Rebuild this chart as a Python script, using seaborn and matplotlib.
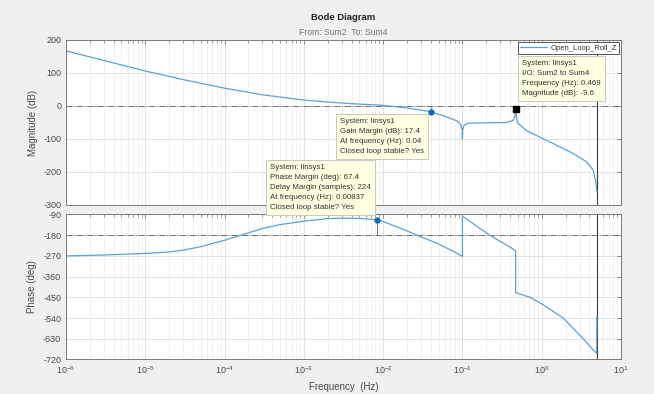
import numpy as np
import pandas as pd
import matplotlib
matplotlib.use("Agg")
import matplotlib.pyplot as plt
import seaborn as sns
from matplotlib.ticker import FixedLocator, NullFormatter

# magnitude response (Hz, dB)
mag_freq = [1e-6, 3e-6, 1e-5, 3e-5, 1e-4, 3e-4, 1e-3, 2e-3, 4e-3, 1e-2, 0.02, 0.04,
            0.063, 0.085, 0.095, 0.099, 0.1, 0.101, 0.105, 0.12, 0.2, 0.36, 0.44,
            0.46, 0.469, 0.48, 0.5, 0.645, 1.4, 2.5, 3.68, 4.46, 4.8, 4.97]
mag_db = [167, 138, 106, 80, 54, 34, 18, 12, 7, 2, -6, -17.4,
          -33, -45, -55, -72, -100, -72, -58, -52, -51, -50, -43,
          -30, -9.6, -35, -52, -75, -114, -144, -169, -194, -228, -258]

# phase response (Hz, deg)
ph_freq = [1e-6, 3e-6, 1e-5, 2e-5, 3e-5, 5e-5, 1e-4, 2e-4, 3e-4, 5e-4, 1e-3, 2e-3,
           3e-3, 5e-3, 8.37e-3, 0.011, 0.018, 0.029, 0.047, 0.077, 0.1, 0.1,
           0.15, 0.222, 0.3, 0.4, 0.469, 0.469, 0.71, 1.0, 1.87, 2.5, 3.34, 4.0,
           4.69, 4.93, 4.97]
ph_deg = [-270, -266, -259, -253, -245, -230, -202, -170, -151, -134, -119, -108,
          -106, -107, -112.6, -126, -155, -185, -214, -250, -272, -97,
          -140, -180, -207, -232, -248, -429, -450, -478, -540, -585, -630, -660,
          -687, -693, -535]

decades = [1e-6, 1e-5, 1e-4, 1e-3, 1e-2, 1e-1, 1e0, 1e1]
nyquist = 5.0
gm_freq, gm_db = 0.04, -17.4
pm_freq, pm_deg = 0.00837, -112.6
pk_freq, pk_db = 0.469, -9.6

mag = pd.DataFrame({"freq": mag_freq, "db": mag_db})
ph = pd.DataFrame({"freq": ph_freq, "deg": ph_deg})

sns.set_style("white")
plt.rcParams["font.family"] = ["Liberation Sans", "DejaVu Sans"]
plt.rcParams["axes.unicode_minus"] = False

BG = "#f0f0f0"
LINE = "#5aa2d4"
AXC = "#7a7a7a"
TXT = "#4a4a4a"

fig = plt.figure(figsize=(6.54, 3.94), dpi=100, facecolor=BG)
ax1 = fig.add_axes([0.1009, 0.4797, 0.8486, 0.4188])
ax2 = fig.add_axes([0.1009, 0.0876, 0.8486, 0.3680])

sns.lineplot(data=mag, x="freq", y="db", ax=ax1, color=LINE, lw=0.9,
             sort=False, estimator=None, label="Open_Loop_Roll_Z")
sns.lineplot(data=ph, x="freq", y="deg", ax=ax2, color=LINE, lw=0.9,
             sort=False, estimator=None)

minor = [m * d for d in decades[:-1] for m in range(2, 10)]
for ax in (ax1, ax2):
    ax.set_xscale("log")
    ax.set_xlim(1e-6, 1e1)
    ax.set_facecolor("white")
    ax.set_xticks(decades)
    ax.xaxis.set_minor_locator(FixedLocator(minor))
    ax.xaxis.set_minor_formatter(NullFormatter())
    ax.grid(True, which="major", color="#dcdcdc", lw=0.6)
    ax.grid(True, which="minor", axis="x", color="#ececec", lw=0.5)
    ax.tick_params(which="both", direction="in", top=True, right=True,
                   colors=AXC, labelcolor=TXT, labelsize=6.5)
    ax.tick_params(which="major", length=3, width=0.6)
    ax.tick_params(which="minor", length=1.8, width=0.5)
    for s in ax.spines.values():
        s.set_color(AXC)
        s.set_linewidth(0.7)
    ax.set_axisbelow(True)
    ax.axvline(nyquist, color="#3a3a3a", lw=0.8, zorder=1)

ax1.set_ylim(-300, 200)
ax1.set_yticks(range(-300, 201, 100))
ax1.axhline(0, color="#707070", lw=0.7, ls="-.", zorder=1)
ax1.tick_params(labelbottom=False)
ax1.set_xlabel("")
ax1.set_ylabel("Magnitude (dB)", fontsize=7, color=TXT, labelpad=4)

ax2.set_ylim(-720, -90)
ax2.set_yticks(range(-720, -89, 90))
ax2.axhline(-180, color="#707070", lw=0.7, ls="-.", zorder=1)
ax2.set_xlabel("Frequency  (Hz)", fontsize=7, color=TXT, labelpad=4)
ax2.set_ylabel("Phase (deg)", fontsize=7, color=TXT, labelpad=4)

# margin markers
ax1.plot([gm_freq, gm_freq], [0, gm_db], color=LINE, lw=0.8)
ax1.plot(gm_freq, gm_db, "o", color="#0a6ab8", ms=3.5, zorder=5)
ax1.plot(pk_freq, pk_db, "s", color="black", ms=4, zorder=5)
ax2.plot([pm_freq, pm_freq], [-180, pm_deg], color="#777777", lw=0.7)
ax2.plot(pm_freq, pm_deg, "o", color="#0a6ab8", ms=3.5, zorder=5)

leg = ax1.legend(loc="upper right", fontsize=5.5, frameon=True, fancybox=False,
                 edgecolor="#555555", framealpha=1, handlelength=3.6,
                 borderaxespad=0.25, borderpad=0.3, handletextpad=0.4)
leg.get_frame().set_linewidth(0.7)
for t in leg.get_texts():
    t.set_color("#333333")

fig.text(0.525, 0.955, "Bode Diagram", ha="center", va="center",
         fontsize=6.8, fontweight="bold", color="#222222")
fig.text(0.525, 0.918, "From: Sum2  To: Sum4", ha="center", va="center",
         fontsize=6.2, color="#777777")

tip = dict(boxstyle="square,pad=0.5", fc="#ffffe1", ec="#c8c8c0", lw=0.7)
tip_kw = dict(ha="left", va="top", fontsize=5.7, color="#333333",
              linespacing=1.6, bbox=tip, zorder=10)
fig.text(522 / 654, 1 - 60 / 394,
         "System: linsys1\nI/O: Sum2 to Sum4\nFrequency (Hz): 0.469\nMagnitude (dB): -9.6",
         **tip_kw)
fig.text(340 / 654, 1 - 118 / 394,
         "System: linsys1\nGain Margin (dB): 17.4\nAt frequency (Hz): 0.04\nClosed loop stable? Yes",
         **tip_kw)
fig.text(270 / 654, 1 - 164 / 394,
         "System: linsys1\nPhase Margin (deg): 67.4\nDelay Margin (samples): 224\n"
         "At frequency (Hz): 0.00837\nClosed loop stable? Yes",
         **tip_kw)

fig.savefig("out.png", dpi=100, facecolor=BG)
